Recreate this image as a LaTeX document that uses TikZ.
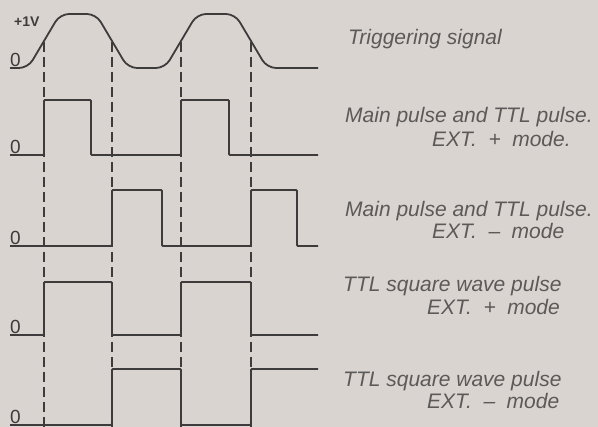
\documentclass[tikz,border=0pt]{standalone}
\usepackage{fontspec}
\setmainfont{Liberation Sans}
\definecolor{paper}{rgb}{0.85,0.83,0.815}
\definecolor{ink}{rgb}{0.24,0.23,0.23}
\definecolor{textgray}{rgb}{0.36,0.35,0.35}
\tikzset{
  signal/.style={
    draw=ink,
    line width=1.8pt,
    rounded corners=1pt
  },
  guide/.style={
    draw=ink,
    line width=1.1pt,
    dash pattern=on 10pt off 5pt
  },
  caption/.style={
    anchor=base west,
    inner sep=0pt,
    text=textgray,
    font=\fontsize{21}{25}\selectfont\itshape
  },
  zero/.style={
    anchor=base west,
    inner sep=0pt,
    text=ink,
    font=\fontsize{19}{19}\selectfont
  }
}

\begin{document}
\begin{tikzpicture}[x=1pt,y=-1pt]
\fill[paper] (0,0) rectangle (598,427);
\useasboundingbox (0,0) rectangle (598,427);
% edge times
\coordinate (e1) at (44,42);
\coordinate (e2) at (112,42);
\coordinate (e3) at (181,42);
\coordinate (e4) at (251,42);
\coordinate (bot) at (0,427);
\foreach \e in {e1,e2,e3,e4}
  \draw[guide] (\e) -- (\e |- bot);
% triggering signal
\draw[signal, rounded corners=9pt] (10,68) -- (28,68) -- (60,14) -- (96,14) -- (128,68)
  -- (165,68) -- (197,14) -- (235,14) -- (267,68) -- (318,68);
% main pulse, EXT. +
\draw[signal] (10,155) -- (44,155) -- (44,100) -- (91,100) -- (91,155) -- (181,155)
  -- (181,100) -- (229,100) -- (229,155) -- (318,155);
% main pulse, EXT. -
\draw[signal] (10,246) -- (112,246) -- (112,190) -- (162,190) -- (162,246) -- (251,246)
  -- (251,190) -- (297,190) -- (297,246) -- (318,246);
% TTL square wave, EXT. +
\draw[signal] (10,335) -- (44,335) -- (44,282) -- (112,282) -- (112,335) -- (181,335)
  -- (181,282) -- (251,282) -- (251,335) -- (318,335);
% TTL square wave, EXT. -
\draw[signal] (10,425) -- (112,425) -- (112,369) -- (181,369) -- (181,425) -- (251,425)
  -- (251,369) -- (318,369);
% levels
\node[zero, font=\fontsize{14}{14}\selectfont\bfseries] (v1) at (14,27) {+1V};
\node[zero] (z1) at (10,67) {0};
\node[zero] (z2) at (10,154) {0};
\node[zero] (z3) at (10,245) {0};
\node[zero] (z4) at (10,334) {0};
\node[zero] (z5) at (10,424) {0};
% captions
\node[caption] (trig) at (348,45) {Triggering signal};
\node[caption] (mp) at (345,123) {Main pulse and TTL pulse.};
\node[caption] (mpm) at (432,147) {EXT.\hspace{.55em}+\hspace{.55em}mode.};
\node[caption] (mn) at (345,217) {Main pulse and TTL pulse.};
\node[caption] (mnm) at (432,239) {EXT.\hspace{.55em}–\hspace{.55em}mode};
\node[caption] (tp) at (343,292) {TTL square wave pulse};
\node[caption] (tpm) at (427,315) {EXT.\hspace{.55em}+\hspace{.55em}mode};
\node[caption] (tn) at (343,387) {TTL square wave pulse};
\node[caption] (tnm) at (427,409) {EXT.\hspace{.55em}–\hspace{.55em}mode};
\end{tikzpicture}
\end{document}
